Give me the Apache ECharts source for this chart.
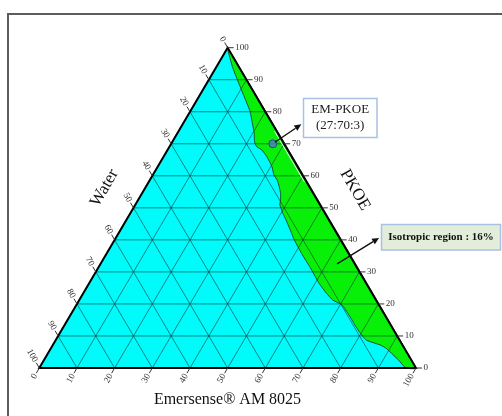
<!DOCTYPE html>
<html><head><meta charset="utf-8">
<script src="https://cdn.jsdelivr.net/npm/echarts@6/dist/echarts.min.js"></script>
<style>html,body{margin:0;padding:0;background:#fff}#c{width:502px;height:416px}</style>
</head><body><div id="c"></div>
<script>
// ---- data ----
const ticks = [0, 10, 20, 30, 40, 50, 60, 70, 80, 90, 100];
const tickLabels = ['0', '10', '20', '30', '40', '50', '60', '70', '80', '90', '100'];
const axisTitles = ['Emersense® AM 8025', 'PKOE', 'Water'];
// isotropic region boundary (Emersense %, PKOE %), from PKOE apex to base
const boundaryEmersense = [0, 4.2, 7.5, 12.9, 15.9, 19.1, 20.4, 21.5, 22.2, 23.2, 25.0, 27.4, 30.3, 32.2, 33.8, 35.4, 36.8, 37.8, 38.4, 39.0, 40.5, 42.4, 46.0, 47.5, 51.7, 56.0, 61.1, 64.6, 67.3, 69.8, 71.1, 74.5, 77.6, 81.0, 82.5, 84.7, 86.9, 89.1, 91.2, 94.1, 97.3];
const boundaryPKOE      = [100, 94.1, 90.1, 83.7, 80.1, 75.3, 73.3, 71.2, 70.1, 69.1, 68.1, 66.0, 62.9, 60.2, 58.7, 56.6, 54.5, 52.5, 50.9, 50.2, 48.3, 46.2, 42.0, 40.2, 35.8, 31.6, 26.4, 23.3, 21.2, 20.1, 19.2, 16.0, 12.9, 9.8, 8.7, 7.9, 7.2, 6.1, 4.6, 2.5, 0];
const formulationName = 'EM-PKOE';
const formulationEmersense = 27;
const formulationPKOE = 70;
const formulationWater = 3;
const isotropicPercent = 16;

// ternary (Emersense, PKOE) -> cartesian
function tern(e, p) { return [e + p / 2, p]; }

const SERIF = '"Liberation Serif","Times New Roman",serif';
const chart = echarts.init(document.getElementById('c'), null, {renderer: 'canvas'});

function single(render, z) {
  return {type: 'custom', coordinateSystem: 'cartesian2d', data: [[50, 50]], z: z, silent: true, renderItem: render, clip: false};
}

// grid lines
const gridSegs = [];
ticks.forEach(k => {
  if (k === 0 || k === 100) return;
  gridSegs.push(tern(0, k).concat(tern(100 - k, k)));      // const PKOE
  gridSegs.push(tern(k, 0).concat(tern(k, 100 - k)));      // const Emersense
  gridSegs.push(tern(100 - k, 0).concat(tern(0, 100 - k))); // const Water
});

function axisSeries(which) {
  const data = ticks.map(k => which === 0 ? tern(k, 0) : which === 1 ? tern(100 - k, k) : tern(0, 100 - k));
  return {
    type: 'custom', coordinateSystem: 'cartesian2d', data: data, z: 6, silent: true, clip: false,
    renderItem: function (params, api) {
      const c = api.coord([api.value(0), api.value(1)]);
      const lab = tickLabels[params.dataIndex];
      let dx, dy, rot, align;
      const L = 6;
      if (which === 0) { dx = -0.5; dy = 0.866; rot = Math.PI / 3; align = 'right'; }
      else if (which === 1) { dx = 1; dy = 0; rot = 0; align = 'left'; }
      else { dx = -0.5; dy = -0.866; rot = -Math.PI / 3; align = 'right'; }
      return {type: 'group', children: [
        {type: 'line', shape: {x1: c[0], y1: c[1], x2: c[0] + dx * L, y2: c[1] + dy * L}, style: {stroke: '#333', lineWidth: 1}},
        {type: 'text', x: c[0] + dx * (L + 1.5), y: c[1] + dy * (L + 1.5), rotation: rot,
          style: {text: lab, fill: '#333', font: '9px ' + SERIF, align: align, verticalAlign: 'middle'}}
      ]};
    }
  };
}

function arrow(api, s, e) {
  const ang = Math.atan2(e[1] - s[1], e[0] - s[0]);
  const hl = 7, hw = 3.2;
  const bx = e[0] - Math.cos(ang) * hl, by = e[1] - Math.sin(ang) * hl;
  return [
    {type: 'line', shape: {x1: s[0], y1: s[1], x2: bx, y2: by}, style: {stroke: '#111', lineWidth: 1.4}},
    {type: 'polygon', shape: {points: [e, [bx - Math.sin(ang) * hw, by + Math.cos(ang) * hw], [bx + Math.sin(ang) * hw, by - Math.cos(ang) * hw]]}, style: {fill: '#111'}}
  ];
}

const option = {
  animation: false,
  grid: {left: 39.3, top: 47.7, width: 376.7, height: 320.3},
  xAxis: {type: 'value', min: 0, max: 100, show: false},
  yAxis: {type: 'value', min: 0, max: 100, show: false},
  series: [
    single(function (params, api) {
      const pts = [tern(0, 0), tern(100, 0), tern(0, 100)].map(p => api.coord(p));
      return {type: 'polygon', shape: {points: pts}, style: {fill: '#00fbfb'}};
    }, 1),
    single(function (params, api) {
      const pts = boundaryEmersense.map((e, i) => api.coord(tern(e, boundaryPKOE[i])));
      pts.push(api.coord(tern(100, 0)));
      return {type: 'polygon', shape: {points: pts, smooth: 0.15}, style: {fill: '#08f008', stroke: '#1a2a1a', lineWidth: 0.8}};
    }, 2),
    {
      type: 'custom', coordinateSystem: 'cartesian2d', data: gridSegs, z: 3, silent: true,
      encode: {x: [0, 2], y: [1, 3]},
      renderItem: function (params, api) {
        const a = api.coord([api.value(0), api.value(1)]);
        const b = api.coord([api.value(2), api.value(3)]);
        return {type: 'line', shape: {x1: a[0], y1: a[1], x2: b[0], y2: b[1]}, style: {stroke: 'rgba(20,50,50,0.85)', lineWidth: 0.7}};
      }
    },
    single(function (params, api) {
      const a = api.coord(tern(26, 74)), b = api.coord(tern(42, 58));
      return {type: 'line', shape: {x1: a[0] - 2.2, y1: a[1], x2: b[0] - 2.2, y2: b[1]}, style: {stroke: '#f4fff4', lineWidth: 1}};
    }, 4),
    single(function (params, api) {
      const pts = [tern(0, 0), tern(100, 0), tern(0, 100)].map(p => api.coord(p));
      return {type: 'polygon', shape: {points: pts}, style: {fill: 'none', stroke: '#000', lineWidth: 2}};
    }, 5),
    axisSeries(0), axisSeries(1), axisSeries(2),
    {
      type: 'scatter', data: [tern(formulationEmersense, formulationPKOE)], z: 8, symbolSize: 8,
      itemStyle: {color: '#5577c8', borderColor: '#223a7a', borderWidth: 1}, silent: true
    },
    single(function (params, api) {
      const s1 = api.coord(tern(formulationEmersense, formulationPKOE));
      const s2 = api.coord(tern(62.8, 32.5));
      return {type: 'group', children: arrow(api, [s1[0] + 2, s1[1] - 1.5], [s1[0] + 28.5, s1[1] - 19.5])
        .concat(arrow(api, s2, [s2[0] + 42, s2[1] - 26]))};
    }, 9)
  ],
  graphic: [
    {type: 'rect', shape: {x: 8, y: 14, width: 520, height: 430}, style: {fill: 'none', stroke: '#5c5c5c', lineWidth: 2}, z: 100},
    {type: 'rect', shape: {x: 303.5, y: 98.5, width: 73.5, height: 39}, style: {fill: '#fff', stroke: '#a9c1e2', lineWidth: 1.5}, z: 100},
    {type: 'text', x: 340.2, y: 110, style: {text: formulationName, font: '13px ' + SERIF, fill: '#222', align: 'center', verticalAlign: 'middle'}, z: 101},
    {type: 'text', x: 340.2, y: 125.5, style: {text: '(' + formulationEmersense + ':' + formulationPKOE + ':' + formulationWater + ')', font: '13px ' + SERIF, fill: '#222', align: 'center', verticalAlign: 'middle'}, z: 101},
    {type: 'rect', shape: {x: 381.5, y: 224.5, width: 119, height: 25.5}, style: {fill: '#e2eeda', stroke: '#a9c1e2', lineWidth: 1.5}, z: 100},
    {type: 'text', x: 441, y: 237.5, style: {text: 'Isotropic region : ' + isotropicPercent + '%', font: 'bold 11px ' + SERIF, fill: '#111', align: 'center', verticalAlign: 'middle'}, z: 101},
    {type: 'text', x: 227.5, y: 400, style: {text: axisTitles[0], font: '16px ' + SERIF, fill: '#111', align: 'center', verticalAlign: 'middle'}, z: 101},
    {type: 'text', x: 355, y: 190, rotation: -Math.PI / 3, style: {text: axisTitles[1], font: '17px ' + SERIF, fill: '#111', align: 'center', verticalAlign: 'middle'}, z: 101},
    {type: 'text', x: 104.5, y: 188, rotation: Math.PI / 3, style: {text: axisTitles[2], font: '17px ' + SERIF, fill: '#111', align: 'center', verticalAlign: 'middle'}, z: 101}
  ]
};
chart.setOption(option);
</script>
</body></html>
